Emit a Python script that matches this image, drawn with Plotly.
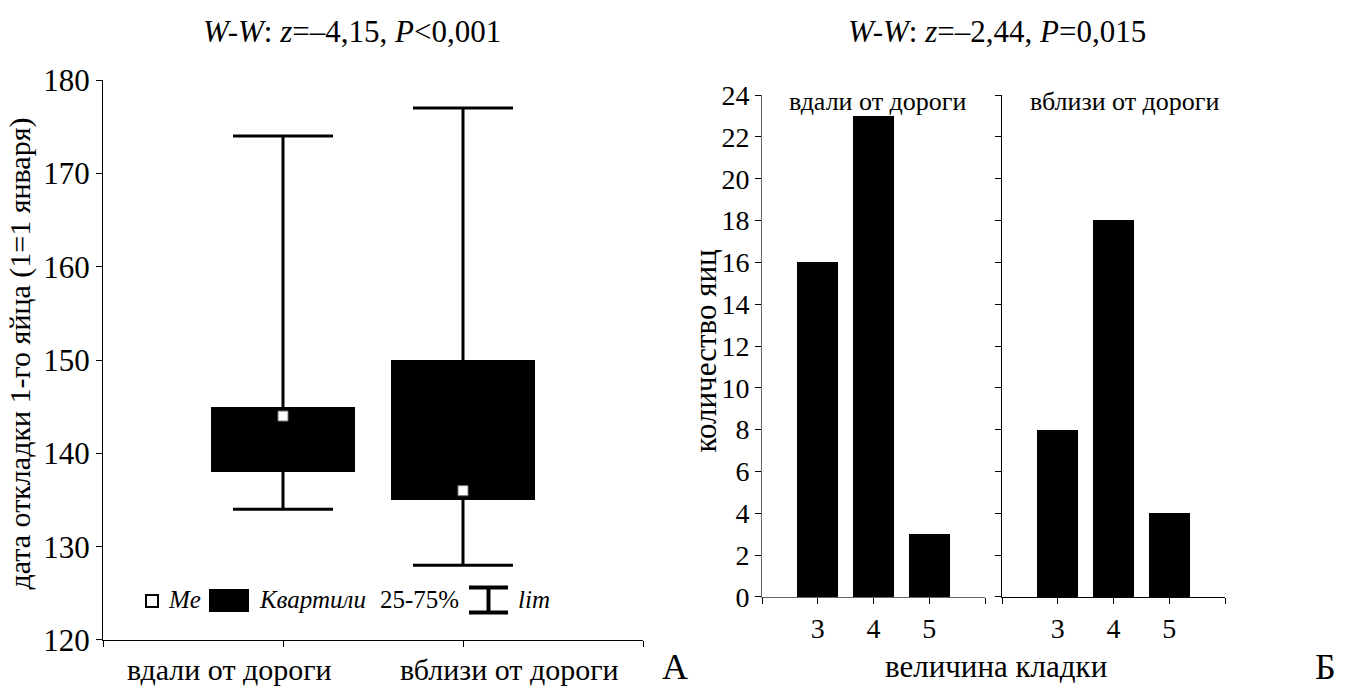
import plotly.graph_objects as go

W, H = 1349, 693

# ---- data ----
groups = ["вдали от дороги", "вблизи от дороги"]
box_pos = [1, 2]
q1 = [138, 135]
q3 = [145, 150]
median = [144, 136]
vmin = [134, 128]
vmax = [174, 177]

clutch_sizes = [3, 4, 5]
eggs_far = [16, 23, 3]
eggs_near = [8, 18, 4]

FONT = "Liberation Serif"

# empirical screen -> paper mapping
OY, SY = 16.0, 0.948


def px(x):
    return x / W


def py(y):
    return 1 - ((y - OY) / SY) / H


fig = go.Figure()

fig.add_trace(go.Bar(
    x=box_pos, y=[b - a for a, b in zip(q1, q3)], base=q1,
    width=0.8, marker=dict(color="black", line=dict(width=0)),
    xaxis="x", yaxis="y", showlegend=False, hoverinfo="skip"))

fig.add_trace(go.Scatter(
    x=box_pos, y=median, mode="markers",
    marker=dict(symbol="square", size=10, color="white",
                line=dict(color="#777777", width=1)),
    error_y=dict(type="data", symmetric=False,
                 array=[b - m for m, b in zip(median, vmax)],
                 arrayminus=[m - a for m, a in zip(median, vmin)],
                 color="black", thickness=3, width=50),
    xaxis="x", yaxis="y", showlegend=False, hoverinfo="skip"))

fig.add_trace(go.Bar(x=clutch_sizes, y=eggs_far, width=0.73,
                     marker=dict(color="black", line=dict(width=0)),
                     xaxis="x2", yaxis="y2", showlegend=False))
fig.add_trace(go.Bar(x=clutch_sizes, y=eggs_near, width=0.73,
                     marker=dict(color="black", line=dict(width=0)),
                     xaxis="x3", yaxis="y3", showlegend=False))


def ax(size=None, linecolor="black", **kw):
    d = dict(showgrid=False, zeroline=False, showline=True,
             linecolor=linecolor, linewidth=1, ticks="outside",
             tickcolor="black", ticklen=6, tickwidth=1)
    if size:
        d["tickfont"] = dict(family=FONT, size=size, color="black")
    d.update(kw)
    return d


fig.update_layout(
    width=W, height=H,
    margin=dict(l=0, r=0, t=0, b=0),
    paper_bgcolor="white", plot_bgcolor="white",
    bargap=0,
    xaxis=ax(domain=[px(103), px(643)], range=[0, 3],
             tickvals=[0, 1, 2, 3], showticklabels=False, anchor="y"),
    yaxis=ax(31, domain=[py(638), py(79)], range=[120, 180],
             tickvals=[120, 130, 140, 150, 160, 170, 180], anchor="x"),
    xaxis2=ax(28, "#666666", domain=[px(762), px(985)], range=[2, 6],
              tickvals=[2, 3, 4, 5, 6], ticktext=["", "3", "4", "5", ""],
              anchor="y2"),
    yaxis2=ax(28, "#666666", domain=[py(595), py(94)], range=[0, 24], dtick=2,
              anchor="x2"),
    xaxis3=ax(28, domain=[px(1002), px(1225)], range=[2, 6],
              tickvals=[2, 3, 4, 5, 6], ticktext=["", "3", "4", "5", ""],
              anchor="y3"),
    yaxis3=ax(domain=[py(595), py(94)], range=[0, 24], dtick=2,
              showticklabels=False, anchor="x3"),
)

ann = []


def text(x, y, s, size, **kw):
    yy = kw.pop("ypaper", None)
    ann.append(dict(x=px(x), y=py(y) if yy is None else yy, xref="paper", yref="paper", text=s,
                    showarrow=False, font=dict(family=FONT, size=size, color="black"),
                    xanchor=kw.pop("xanchor", "center"), yanchor=kw.pop("yanchor", "middle"), **kw))


title_y = 1 - 15 / H
text(352, 0, "<i>W-W</i>: <i>z</i>=–4,15, <i>P</i>&lt;0,001", 31, ypaper=title_y)
text(997, 0, "<i>W-W</i>: <i>z</i>=–2,44, <i>P</i>=0,015", 31, ypaper=title_y)
text(20, 352, "дата откладки 1-го яйца (1=1 января)", 30, textangle=-90)
text(229, 667, groups[0], 30)
text(509, 667, groups[1], 30)
text(675, 665, "А", 36)
text(1325, 665, "Б", 36)
text(706, 350, "количество яиц", 31, textangle=-90)
text(996, 664, "величина кладки", 31)
text(878, 100, groups[0], 26)
text(1125, 100, groups[1], 26)

text(166, 598, "<i>Me</i>", 25, xanchor="left")
text(257, 598, "<i>Квартили</i>", 25, xanchor="left")
text(378, 598, "25-75%", 25, xanchor="left")
text(516, 598, "<i>lim</i>", 25, xanchor="left")
fig.update_layout(annotations=ann)

shapes = []
shapes.append(dict(type="rect", xref="paper", yref="paper", x0=px(146), x1=px(158),
                   y0=py(605), y1=py(593), line=dict(color="black", width=2), fillcolor="white"))
shapes.append(dict(type="rect", xref="paper", yref="paper", x0=px(209), x1=px(249),
                   y0=py(610), y1=py(587), line=dict(width=0), fillcolor="black"))
for (x0, y0, x1, y1) in [(469, 585.5, 508, 585.5), (469, 610.5, 508, 610.5), (488.5, 585.5, 488.5, 610.5)]:
    shapes.append(dict(type="line", xref="paper", yref="paper", x0=px(x0), x1=px(x1),
                       y0=py(y0), y1=py(y1), line=dict(color="black", width=4)))
fig.update_layout(shapes=shapes)

fig.write_html("out.html",
               config={"displayModeBar": False},
               post_script="document.body.style.margin='0';document.body.style.overflow='hidden';")
